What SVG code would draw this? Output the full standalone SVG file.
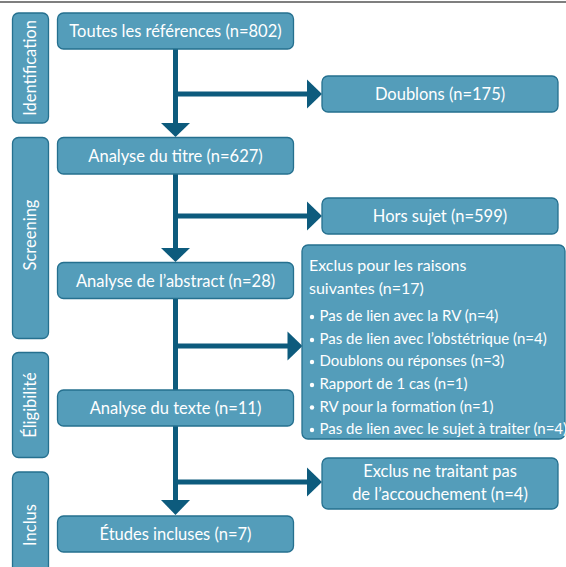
<svg xmlns="http://www.w3.org/2000/svg" width="566" height="567" viewBox="0 0 566 567">
<style>
.box{fill:#549dba;stroke:#25708f;stroke-width:1.3}
.t{font-family:"Lato","Liberation Sans",sans-serif;font-size:16.5px;fill:#ffffff;text-anchor:middle}
.tl{font-family:"Lato","Liberation Sans",sans-serif;font-size:16px;fill:#ffffff}
.tb{font-family:"Lato","Liberation Sans",sans-serif;font-size:15px;fill:#ffffff}
.st{font-family:"Lato","Liberation Sans",sans-serif;font-size:16.5px;fill:#ffffff;text-anchor:middle}
.ln{stroke:#0d5b7d;stroke-width:5;fill:none}
.ah{fill:#0d5b7d}
</style>
<rect x="0" y="0" width="566" height="567" fill="#ffffff"/>
<line x1="0" y1="2" x2="566" y2="2" stroke="#555555" stroke-width="1.5"/>

<g id="connectors">
<line class="ln" x1="175.5" y1="49" x2="175.5" y2="124"/>
<polygon class="ah" points="161,123 190,123 175.5,137"/>
<line class="ln" x1="175.5" y1="94" x2="308" y2="94"/>
<polygon class="ah" points="307,79.5 307,108.5 322,94"/>
<line class="ln" x1="175.5" y1="174" x2="175.5" y2="249"/>
<polygon class="ah" points="161,248 190,248 175.5,262"/>
<line class="ln" x1="175.5" y1="216" x2="308" y2="216"/>
<polygon class="ah" points="307,201.5 307,230.5 322,216"/>
<line class="ln" x1="175.5" y1="298" x2="175.5" y2="390"/>
<line class="ln" x1="175.5" y1="346" x2="289" y2="346"/>
<polygon class="ah" points="287.5,331.5 287.5,360.5 302.5,346"/>
<line class="ln" x1="175.5" y1="425" x2="175.5" y2="501"/>
<polygon class="ah" points="161,500 190,500 175.5,515"/>
<line class="ln" x1="175.5" y1="482" x2="308" y2="482"/>
<polygon class="ah" points="307,467.5 307,496.5 322,482"/>
</g>

<g id="stage-identification">
<rect class="box" x="12.5" y="13" width="36" height="110" rx="6"/>
<text class="st" transform="translate(36,68) rotate(-90)">Identification</text>
</g>
<g id="stage-screening">
<rect class="box" x="12.5" y="137.5" width="36" height="201" rx="6"/>
<text class="st" transform="translate(36,235) rotate(-90)">Screening</text>
</g>
<g id="stage-eligibilite">
<rect class="box" x="12.5" y="352.5" width="36" height="105" rx="6"/>
<text class="st" transform="translate(36,405) rotate(-90)">Éligibilité</text>
</g>
<g id="stage-inclus">
<rect class="box" x="12.5" y="472" width="36" height="110" rx="6"/>
<text class="st" transform="translate(36,525) rotate(-90)">Inclus</text>
</g>

<g id="n-toutes">
<rect class="box" x="57.5" y="13" width="236" height="36" rx="6"/>
<text class="t" x="175.5" y="37">Toutes les références (n=802)</text>
</g>
<g id="n-doublons">
<rect class="box" x="322" y="76" width="236" height="36" rx="6"/>
<text class="t" x="440" y="100">Doublons (n=175)</text>
</g>
<g id="n-titre">
<rect class="box" x="57.5" y="137.5" width="236" height="36.5" rx="6"/>
<text class="t" x="175.5" y="162">Analyse du titre (n=627)</text>
</g>
<g id="n-hors">
<rect class="box" x="322" y="198" width="236" height="36" rx="6"/>
<text class="t" x="440" y="222">Hors sujet (n=599)</text>
</g>
<g id="n-abstract">
<rect class="box" x="57.5" y="262.5" width="236" height="36" rx="6"/>
<text class="t" x="175.5" y="286.5">Analyse de l’abstract (n=28)</text>
</g>
<g id="n-exclus">
<rect class="box" x="302" y="245" width="263" height="194" rx="6"/>
<text class="tl" x="309" y="271">Exclus pour les raisons</text>
<text class="tl" x="309" y="294">suivantes (n=17)</text>
<g fill="#ffffff">
<circle cx="312" cy="317" r="2.2"/>
<circle cx="312" cy="340" r="2.2"/>
<circle cx="312" cy="362" r="2.2"/>
<circle cx="312" cy="385" r="2.2"/>
<circle cx="312" cy="407.5" r="2.2"/>
<circle cx="312" cy="430" r="2.2"/>
</g>
<text class="tb" x="319.5" y="321">Pas de lien avec la RV (n=4)</text>
<text class="tb" x="319.5" y="344">Pas de lien avec l’obstétrique (n=4)</text>
<text class="tb" x="319.5" y="366">Doublons ou réponses (n=3)</text>
<text class="tb" x="319.5" y="389">Rapport de 1 cas (n=1)</text>
<text class="tb" x="319.5" y="411.5">RV pour la formation (n=1)</text>
<text class="tb" x="319.5" y="434">Pas de lien avec le sujet à traiter (n=4)</text>
</g>
<g id="n-texte">
<rect class="box" x="57.5" y="390" width="236" height="36" rx="6"/>
<text class="t" x="175.5" y="414">Analyse du texte (n=11)</text>
</g>
<g id="n-exclus2">
<rect class="box" x="322" y="458" width="236" height="51" rx="6"/>
<text class="t" x="440" y="477">Exclus ne traitant pas</text>
<text class="t" x="440" y="500">de l’accouchement (n=4)</text>
</g>
<g id="n-etudes">
<rect class="box" x="57.5" y="516" width="236" height="36" rx="6"/>
<text class="t" x="175.5" y="540">Études incluses (n=7)</text>
</g>
</svg>
